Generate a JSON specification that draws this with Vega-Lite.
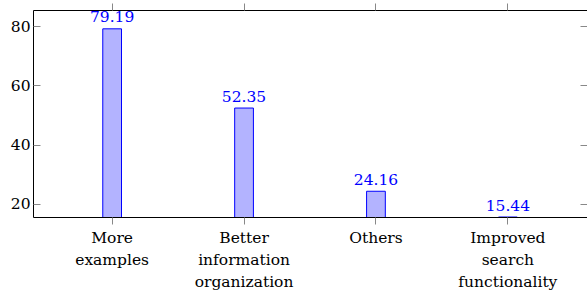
{
  "$schema": "https://vega.github.io/schema/vega-lite/v6.json",
  "width": 554,
  "height": 207,
  "autosize": {"type": "none"},
  "padding": {"left": 33, "top": 10, "right": 0, "bottom": 79},
  "config": {
    "view": {"stroke": "black", "strokeWidth": 1},
    "font": "DejaVu Serif",
    "axis": {
      "labelFont": "DejaVu Serif",
      "labelFontSize": 15.5,
      "labelColor": "black",
      "domain": false,
      "grid": false,
      "tickColor": "#888888",
      "tickWidth": 1,
      "title": null
    }
  },
  "data": {
    "values": [
      {"category": "More examples", "value": 79.19},
      {"category": "Better information organization", "value": 52.35},
      {"category": "Others", "value": 24.16},
      {"category": "Improved search functionality", "value": 15.44}
    ]
  },
  "encoding": {
    "x": {
      "field": "category",
      "type": "nominal",
      "sort": null,
      "scale": {"paddingInner": 0, "paddingOuter": 0.1}
    },
    "y": {
      "field": "value",
      "type": "quantitative",
      "scale": {"domain": [15.44, 85.565], "nice": false, "zero": false}
    }
  },
  "layer": [
    {
      "mark": {"type": "bar", "width": {"band": 0.142}, "fill": "#b3b3ff", "stroke": "blue", "strokeWidth": 1, "clip": true},
      "encoding": {
        "x": {
          "field": "category",
          "type": "nominal",
          "sort": null,
          "axis": {
            "orient": "bottom",
            "labelAngle": 0,
            "tickSize": 7,
            "labelPadding": 6.5,
            "labelLineHeight": 22,
            "labelBaseline": "top",
            "labelExpr": "split(datum.label, ' ')"
          }
        },
        "y": {
          "field": "value",
          "type": "quantitative",
          "axis": {"orient": "left", "values": [20, 40, 60, 80], "tickSize": -7, "labelPadding": 10}
        }
      }
    },
    {
      "mark": {"type": "text", "color": "blue", "fontSize": 15.5, "font": "DejaVu Serif", "baseline": "alphabetic", "dy": -6.5},
      "encoding": {
        "text": {"field": "value", "type": "quantitative", "format": ".2f"},
        "x": {
          "field": "category",
          "type": "nominal",
          "sort": null,
          "axis": {"orient": "top", "labels": false, "tickSize": 7}
        },
        "y": {
          "field": "value",
          "type": "quantitative",
          "axis": {"orient": "right", "values": [20, 40, 60, 80], "labels": false, "tickSize": -7}
        }
      }
    }
  ],
  "resolve": {"axis": {"x": "independent", "y": "independent"}}
}
